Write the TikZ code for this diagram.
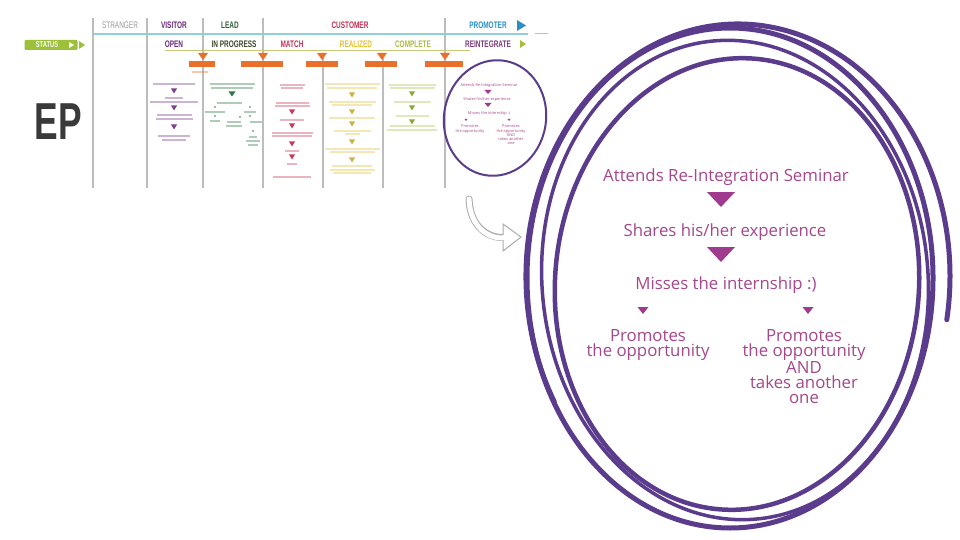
\documentclass[tikz,border=0pt]{standalone}
\usepackage{fontspec}
\setmainfont{Open Sans}
\newfontfamily\cond[FakeStretch=0.68]{Liberation Sans}
\definecolor{vgray}{HTML}{BDBDBD}
\definecolor{tealc}{HTML}{8FCFDA}
\definecolor{strc}{HTML}{9A9A9A}
\definecolor{visc}{HTML}{6A2A7A}
\definecolor{leadh}{HTML}{2F5E3A}
\definecolor{progc}{HTML}{3A4A2A}
\definecolor{custc}{HTML}{C23255}
\definecolor{realc}{HTML}{E6C12E}
\definecolor{compc}{HTML}{A8C040}
\definecolor{promc}{HTML}{2A8FC8}
\definecolor{reinc}{HTML}{7A3A7A}
\definecolor{greenc}{HTML}{9CC03A}
\definecolor{orangec}{HTML}{E8702A}
\definecolor{epc}{HTML}{3A3A3A}
\definecolor{pinkp}{HTML}{A4478C}
\definecolor{trip}{HTML}{A03A8E}
\definecolor{circp}{HTML}{5B3B8C}
\definecolor{visb}{HTML}{7B3F8C}
\definecolor{leadb}{HTML}{2E7A45}
\definecolor{matb}{HTML}{C83A5A}
\definecolor{realb}{HTML}{E0C040}
\definecolor{realt}{HTML}{C8B43A}
\definecolor{compb}{HTML}{AFC24A}
\definecolor{compt}{HTML}{8AA83A}
\definecolor{olivel}{HTML}{C8C878}
\newcommand\mybar[4]{\draw[line width=1.1pt,#1,opacity=0.38] ({#2-#4/2},#3) -- ({#2+#4/2},#3);}
\newcommand\mydtri[5]{\fill[#1] ({#2-#4/2},{#3-#5/2}) -- ({#2+#4/2},{#3-#5/2}) -- (#2,{#3+#5/2}) -- cycle;}
\tikzset{
  vline/.style={draw=vgray, line width=2pt},
  hdr/.style={font=\cond\bfseries\fontsize{9.5}{10}\selectfont, inner sep=0pt},
  big/.style={font=\fontsize{16.8}{15}\selectfont, text=pinkp, align=center, inner sep=0pt},
  sml/.style={font=\fontsize{3.9}{4.2}\selectfont, text=pinkp, align=center, inner sep=0pt},
  circ/.style={draw=circp, line cap=round},
  obox/.style={fill=orangec, draw=none}
}
\begin{document}
\begin{tikzpicture}[x=1pt,y=-1pt]
\useasboundingbox (0,0) rectangle (960,540);
\fill[white] (0,0) rectangle (960,540);

% vertical column lines
\foreach \x in {93,147,203,263,445} \draw[vline] (\x,18) -- (\x,188);
\foreach \x in {323,383} \draw[vline] (\x,58) -- (\x,188);

% teal separator
\draw[tealc, line width=1.5pt] (93,34) -- (528,34);
\draw[vgray, line width=1pt] (535,34) -- (548,34);

% header row 1
\node[hdr, text=strc, font=\cond\fontsize{9.5}{10}\selectfont] (hstr) at (120,25) {STRANGER};
\node[hdr, text=visc] (hvis) at (174,25) {VISITOR};
\node[hdr, text=leadh] (hlead) at (230,25) {LEAD};
\node[hdr, text=custc] (hcust) at (350,25) {CUSTOMER};
\node[hdr, text=promc] (hprom) at (488,25) {PROMOTER};
\fill[promc] (517,20) -- (526,25.5) -- (517,31) -- cycle;

% header row 2
\node[hdr, text=visc] (hopen) at (174,44) {OPEN};
\node[hdr, text=progc] (hprog) at (234,44) {IN PROGRESS};
\node[hdr, text=custc] (hmatch) at (292,44) {MATCH};
\node[hdr, text=realc] (hreal) at (356,44) {REALIZED};
\node[hdr, text=compc] (hcomp) at (413,44) {COMPLETE};
\node[hdr, text=reinc] (hrein) at (488,44) {REINTEGRATE};
\fill[compc] (520,40) -- (526,44) -- (520,48) -- cycle;

% status label
\node[fill=greenc, minimum width=53pt, minimum height=10pt, inner sep=0pt, rounded corners=1pt] (status) at (51,45) {};
\node[hdr, text=white, font=\cond\bfseries\fontsize{8.5}{9}\selectfont] (statust) at (47,45) {STATUS};
\fill[white] (69,42) -- (74,45) -- (69,48) -- cycle;
\fill[greenc] (79,41) -- (85,45) -- (79,49) -- cycle;

% line under status row
\draw[olivel, line width=1pt] (165,51) -- (470,51);

% orange triangles and boxes
\foreach \x in {203,263,322,382,445} \fill[orangec] ({\x-5},53) -- ({\x+5},53) -- (\x,60) -- cycle;
\node[obox, minimum width=26pt, minimum height=6pt, inner sep=0pt] (ob1) at (202,64.5) {};
\node[obox, minimum width=42pt, minimum height=6pt, inner sep=0pt] (ob2) at (262,64.5) {};
\node[obox, minimum width=32pt, minimum height=6pt, inner sep=0pt] (ob3) at (322,64.5) {};
\node[obox, minimum width=32pt, minimum height=6pt, inner sep=0pt] (ob4) at (381,64.5) {};
\node[obox, minimum width=38pt, minimum height=6pt, inner sep=0pt] (ob5) at (444,64.5) {};
\mybar{orangec}{200}{72}{16}

% EP
\node[font=\cond\bfseries\fontsize{52}{52}\selectfont, text=epc, inner sep=0pt] (ep) at (58,122) {EP};

% visitor column
\mybar{visb}{174}{84}{42}
\mydtri{visb}{174}{91}{6}{5}
\mybar{visb}{174}{98}{18}
\mybar{visb}{174}{102}{48}
\mydtri{visb}{174}{108}{6}{5}
\mybar{visb}{174}{115}{35}
\mybar{visb}{174}{119}{37}
\mydtri{visb}{174}{127}{6}{5}
\mybar{visb}{174}{136}{32}
\mybar{visb}{174}{140}{24}

% lead column
\mybar{leadb}{232}{84}{45}
\mybar{leadb}{232}{88}{42}
\mydtri{leadb}{232}{94}{7}{5}
\mybar{leadb}{229}{103}{25}
\fill[leadb] (215,107) circle (0.9);
\fill[leadb] (250,107) circle (0.9);
\mybar{leadb}{215}{112}{20}
\fill[leadb] (215,116) circle (0.9);
\mybar{leadb}{215}{121}{10}
\fill[leadb] (240,117) circle (0.9);
\mybar{leadb}{234}{122}{14}
\mybar{leadb}{234}{126}{16}
\mybar{leadb}{250}{112}{12}
\fill[leadb] (250,116) circle (0.9);
\mybar{leadb}{256}{122}{12}
\fill[leadb] (253,131) circle (0.9);
\mybar{leadb}{253}{137}{8}
\mybar{leadb}{253}{141}{14}
\mybar{leadb}{253}{145}{10}

% match column
\mybar{matb}{292}{85}{25}
\mybar{matb}{292}{88}{22}
\mybar{matb}{292}{103}{33}
\mybar{matb}{292}{106}{35}
\mydtri{matb}{292}{112}{6}{5}
\mybar{matb}{292}{120}{24}
\mydtri{matb}{292}{126}{6}{5}
\mybar{matb}{292}{133}{41}
\mybar{matb}{292}{136}{40}
\mydtri{matb}{292}{144}{6}{5}
\mybar{matb}{292}{151}{14}
\mydtri{matb}{292}{157}{6}{5}
\mybar{matb}{292}{164}{10}
\mybar{matb}{292}{177}{38}

% realized column
\mybar{realb}{352}{84}{55}
\mybar{realb}{352}{88}{50}
\mydtri{realt}{352}{95}{6}{5}
\mybar{realb}{352}{102}{47}
\mybar{realb}{352}{105}{40}
\mydtri{realt}{352}{112}{6}{5}
\mybar{realb}{352}{118}{46}
\mydtri{realt}{352}{124}{6}{5}
\mybar{realb}{352}{131}{37}
\mybar{realb}{352}{134}{15}
\mydtri{realt}{352}{142}{6}{5}
\mybar{realb}{352}{149}{55}
\mybar{realb}{352}{152}{45}
\mydtri{realt}{352}{160}{6}{5}
\mybar{realb}{352}{166}{40}
\mybar{realb}{352}{170}{45}
\mybar{realb}{352}{173}{38}

% complete column
\mybar{compb}{412}{85}{47}
\mybar{compb}{412}{88}{45}
\mydtri{compt}{412}{94}{6}{5}
\mybar{compb}{412}{102}{37}
\mydtri{compt}{412}{108}{6}{5}
\mybar{compb}{412}{116}{33}
\mydtri{compt}{412}{122}{6}{5}
\mybar{compb}{412}{126}{45}
\mybar{compb}{412}{130}{50}

% reintegrate column (small copy)
\node[sml] (s1) at (489,85) {Attends Re-Integration Seminar};
\mydtri{trip}{488}{92}{7}{4}
\node[sml] (s2) at (487,99) {Shares his/her experience};
\mydtri{trip}{488}{105}{7}{4}
\node[sml] (s3) at (489,113) {Misses the internship :)};
\mydtri{trip}{466}{120}{3}{2}
\mydtri{trip}{509}{120}{3}{2}
\node[sml, anchor=north] (s4) at (470,125) {Promotes\\the opportunity};
\node[sml, anchor=north] (s5) at (511,125) {Promotes\\the opportunity\\AND\\takes another\\one};
\draw[circ, line width=2pt, rotate around={-10:(495,118)}] (495,118) ellipse [x radius=51, y radius=58];

% curved hollow arrow
\coordinate (cs) at (469,199);
\coordinate (ce) at (507,237);
\draw[gray!65, line width=7pt, line cap=round] (cs) .. controls (470,228) and (490,240) .. (ce);
\filldraw[fill=white, draw=gray!65, line width=1pt] (503,224) -- (521,237) -- (503,251) -- cycle;
\draw[white, line width=5pt, line cap=round] (cs) .. controls (470,228) and (490,240) .. (505,237.5);

% big hand-drawn circle
\draw[circ, line width=5pt] (730,278) ellipse [x radius=203, y radius=250];
\draw[circ, line width=3.5pt, rotate around={5:(735,280)}] (735,280) ellipse [x radius=193, y radius=240];
\draw[circ, line width=4.5pt, rotate around={-4:(737,284)}] (737,284) ellipse [x radius=182, y radius=226];
\draw[circ, line width=5pt] (738,276) ++(150:212 and 252) arc[start angle=150, end angle=370, x radius=212, y radius=252];

% big text
\node[big] (a1) at (726,177) {Attends Re-Integration Seminar};
\mydtri{trip}{721}{199.5}{28}{15}
\node[big] (a2) at (725,232) {Shares his/her experience};
\mydtri{trip}{721}{254.5}{28}{15}
\node[big] (a3) at (726,285) {Misses the internship :)};
\mydtri{trip}{643}{310.5}{11}{7}
\mydtri{trip}{808}{310.5}{11}{7}
\node[big, anchor=north] (p1) at (648,329) {Promotes\\the opportunity};
\node[big, anchor=north] (p2) at (804,329) {Promotes\\the opportunity\\AND\\takes another\\one};
\end{tikzpicture}
\end{document}
